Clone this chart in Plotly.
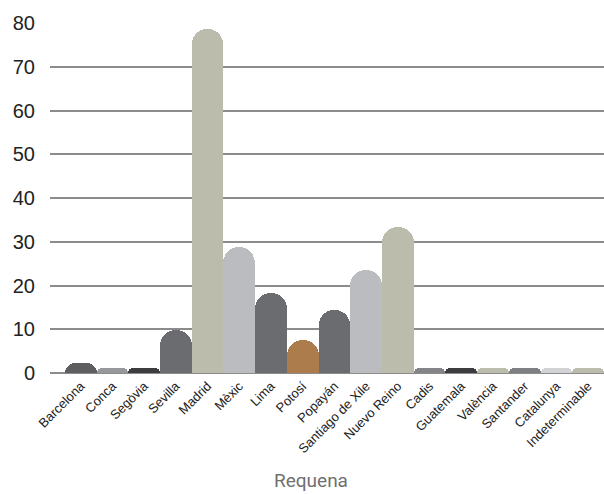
import plotly.graph_objects as go

categories = ["Barcelona", "Conca", "Segòvia", "Sevilla", "Madrid", "Mèxic", "Lima",
              "Potosí", "Popayán", "Santiago de Xile", "Nuevo Reino", "Cadis",
              "Guatemala", "València", "Santander", "Catalunya", "Indeterminable"]
values = [2.3, 1.2, 1.2, 9.8, 78.7, 28.9, 18.3, 7.6, 14.4, 23.6, 33.4,
          1.2, 1.2, 1.2, 1.2, 1.2, 1.2]
colors = ["#5e5e60", "#97989b", "#3d3d3f", "#6b6c70", "#bbbcab", "#bbbcc0", "#6b6c70",
          "#ad7c4c", "#6b6c70", "#bbbcc0", "#bbbcab", "#848588",
          "#3d3d3f", "#bbbcab", "#7e7f83", "#d2d3d5", "#bbbcab"]
y_ticks = [0, 10, 20, 30, 40, 50, 60, 70, 80]
title_text = "Requena"

cond = "Liberation Sans Narrow, Liberation Sans, Arial, sans-serif"

fig = go.Figure(go.Bar(
    x=list(range(len(categories))),
    y=values,
    marker=dict(color=colors, line=dict(width=0), cornerradius="50%"),
    width=1.0,
    hoverinfo="x+y",
))

fig.update_layout(
    width=604, height=494,
    margin=dict(l=50, r=0, t=23, b=121, autoexpand=False),
    paper_bgcolor="white", plot_bgcolor="white",
    showlegend=False,
    bargap=0,
    font=dict(family=cond, color="#222222"),
    xaxis=dict(
        range=[-0.97, 16.5],
        tickmode="array",
        tickvals=list(range(len(categories))),
        ticktext=categories,
        tickangle=-45,
        tickfont=dict(size=13, family=cond, color="#222222"),
        showgrid=False, zeroline=False, showline=False,
        ticks="",
        ticklabelstandoff=2,
        automargin=False,
        fixedrange=True,
    ),
    yaxis=dict(
        range=[0, 80],
        tickvals=y_ticks,
        tickfont=dict(size=20, family=cond, color="#222222"),
        showgrid=True, gridcolor="#8c8c8c", gridwidth=1.5,
        zeroline=True, zerolinecolor="#8c8c8c", zerolinewidth=1.5,
        showline=False, ticks="",
        ticklabelstandoff=14,
        automargin=False,
        fixedrange=True,
    ),
    annotations=[dict(
        text=title_text, xref="paper", yref="paper",
        x=0.471, y=-0.306, xanchor="center", yanchor="middle",
        showarrow=False,
        font=dict(size=19, family="Roboto, Open Sans, sans-serif", color="#707070"),
    )],
)

fig.write_html("out.html", config={"displayModeBar": False},
               post_script="document.body.style.margin='0px';")
